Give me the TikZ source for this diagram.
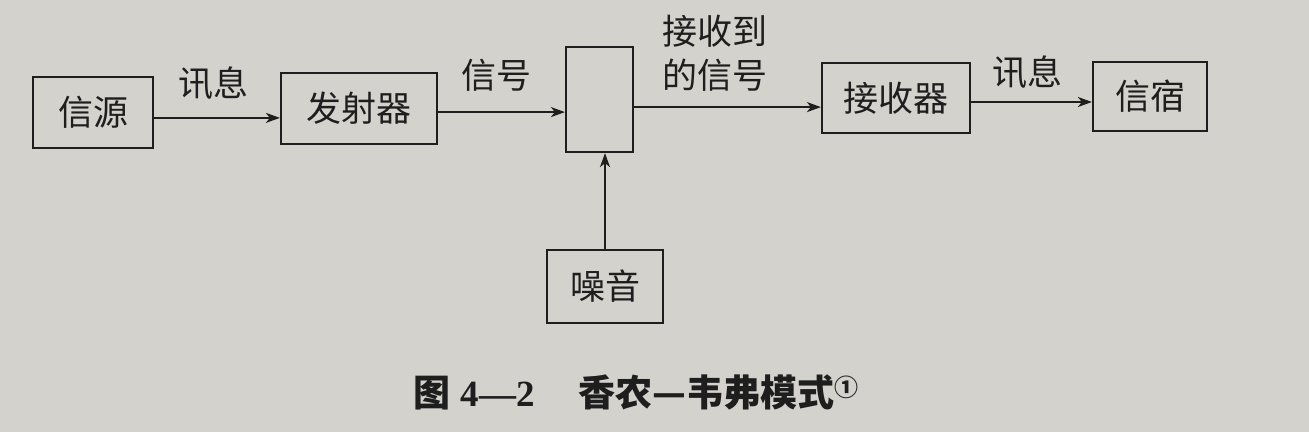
\documentclass[tikz,border=0pt]{standalone}
\usepackage{fontspec}
\usepackage{tikz}
\usetikzlibrary{arrows.meta}
\setmainfont{Liberation Serif}
\newfontfamily\cjk{Noto Sans CJK SC}
\definecolor{paper}{RGB}{212,210,205}
\definecolor{ink}{RGB}{30,30,30}

\begin{document}
\begin{tikzpicture}[x=0.5pt,y=-0.5pt,
  box/.style={draw=ink,line width=1.1pt,inner sep=0pt,font=\cjk\fontsize{17.5}{21}\selectfont,text=ink},
  lbl/.style={font=\cjk\fontsize{17.5}{21}\selectfont,text=ink,align=center,inner sep=0pt},
  sig/.style={draw=ink,line width=1pt,-{Stealth[length=7pt,width=5pt,inset=2pt]}}]
\fill[paper] (0,0) rectangle (1309,432);
\node[box,minimum width=60pt,minimum height=35.5pt] (src) at (93,112.5) {信源};
\node[box,minimum width=78pt,minimum height=35.5pt] (tx) at (359,108.5) {发射器};
\node[box,minimum width=33.5pt,minimum height=52.5pt] (ch) at (599.5,99.5) {};
\node[box,minimum width=74pt,minimum height=35pt] (rx) at (896,98) {接收器};
\node[box,minimum width=57pt,minimum height=34.5pt] (dst) at (1150,96.5) {信宿};
\node[box,minimum width=58pt,minimum height=36.5pt] (noise) at (605,286.5) {噪音};
\draw[sig] ([yshift=-2.7pt]src.east) -- ([yshift=-2.7pt]src.east -| tx.west);
\draw[sig] ([yshift=-1.8pt]tx.east) -- ([yshift=-1.8pt]tx.east -| ch.west);
\draw[sig] ([yshift=-3.8pt]ch.east) -- ([yshift=-3.8pt]ch.east -| rx.west);
\draw[sig] ([yshift=-2pt]rx.east) -- ([yshift=-2pt]rx.east -| dst.west);
\draw[sig] (noise.north) -- (noise.north |- ch.south);
\node[lbl] (m1) at (213,83) {讯息};
\node[lbl] (s1) at (496,75) {信号};
\node[lbl] (s2) at (715,53) {接收到\\[1pt]的信号};
\node[lbl] (m2) at (1027,72) {讯息};
\node[text=ink,inner sep=0pt] (cap) at (636,392)
  {{\cjk\bfseries\fontsize{18.5}{22}\selectfont 图}\hspace{5pt}{\bfseries\fontsize{18.5}{22}\selectfont 4—2}\hspace{22pt}{\cjk\bfseries\fontsize{18.5}{22}\selectfont 香农—韦弗模式\raisebox{5pt}{\fontsize{12}{13}\selectfont ①}}};
\end{tikzpicture}
\end{document}
